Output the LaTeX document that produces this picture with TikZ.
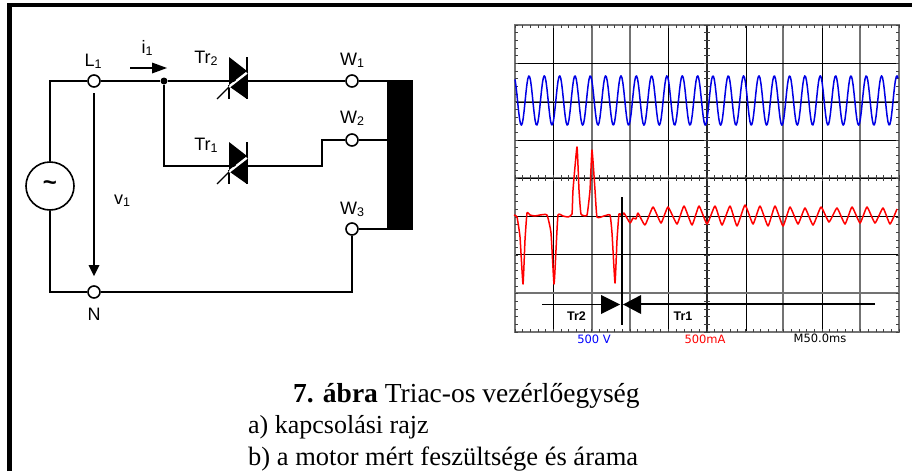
\documentclass[tikz,border=0pt]{standalone}
\usepackage{fontspec}
\setmainfont{Liberation Serif}
\newfontfamily\arialf{Liberation Sans}
\newfontfamily\scopef{DejaVu Sans}
\newcommand\sbs[1]{\raisebox{-0.2ex}{\fontsize{12.5}{12.5}\selectfont #1}}
\definecolor{gridg}{gray}{0.45}
\tikzset{
  wire/.style={line width=1.6pt,black,line join=miter},
  term/.style={circle,draw=black,line width=1.6pt,fill=white,minimum size=12pt,inner sep=0pt},
  lab/.style={font=\arialf\fontsize{18}{18}\selectfont,inner sep=0pt,black},
  captext/.style={font=\fontsize{26.5}{26.5}\selectfont,inner sep=0pt,anchor=base west,black},
  scopelab/.style={font=\scopef\fontsize{11.5}{11.5}\selectfont,inner sep=0pt},
  anno/.style={font=\arialf\bfseries\fontsize{12.5}{12.5}\selectfont,inner sep=0pt,black},
  gk/.style={line width=1pt,black},
  gg/.style={line width=1.4pt,gridg},
  smalltick/.style={line width=.9pt,black!75},
  triac/.pic={
    \fill[black] (-9,-24) -- (9,-10) -- (-9,4) -- cycle;
    \fill[black] (-8,6) -- (9,-7) -- (9,18) -- cycle;
    \draw[line width=1.3pt] (9,-24) -- (9,18);
    \draw[line width=1.3pt] (-21,18) -- (-8,5);
    \draw[line width=1.3pt] (-9,4) -- (-9,18);
    \draw[white,line width=1.8pt] (-9,6) -- (9,-8);
  }
}
\begin{document}
\begin{tikzpicture}[x=1pt,y=-1pt]
\useasboundingbox (0,0) rectangle (912,471);
\fill[white] (0,0) rectangle (912,471);
% frame
\draw[line width=4.5pt,black] (9.5,471) -- (9.5,5) -- (912,5);
% circuit nodes
\node[term] (L) at (94,81) {};
\node[term] (N) at (94,292) {};
\node[term] (W1) at (352,81) {};
\node[term] (W2) at (352,140) {};
\node[term] (W3) at (352,229) {};
\node[circle,draw=black,line width=1.6pt,minimum size=48pt,inner sep=0pt,font=\arialf\bfseries\fontsize{24}{24}\selectfont] (S) at (50,186) {\raisebox{-1pt}{\char"007E}};
\node[circle,fill=black,minimum size=7pt,inner sep=0pt] (J) at (164,81) {};
\node[rectangle,fill=black,minimum width=26pt,minimum height=150pt,inner sep=0pt] (M) at (400,155) {};
\coordinate (T2) at (238,81);
\coordinate (T1) at (238,166);
\coordinate (SL) at (50,81);
\coordinate (SN) at (50,292);
\coordinate (JD) at (164,166);
\coordinate (S1) at (322,166);
\coordinate (S2) at (322,140);
\coordinate (WN) at (352,292);
\coordinate (V1) at (94,93);
\coordinate (V2) at (94,276);
\coordinate (I1) at (130,68);
\coordinate (I2) at (167,68);
% wires
\draw[wire] (S.north) -- (SL) -- (L);
\draw[wire] (S.south) -- (SN) -- (N);
\draw[wire] (L) -- (J);
\draw[wire] (J) -- (T2);
\draw[wire] (T2) -- (W1);
\draw[wire] (W1) -- (W1 -| M.west);
\draw[wire] (J) -- (JD) -- (T1);
\draw[wire] (T1) -- (S1) -- (S2) -- (W2);
\draw[wire] (W2) -- (W2 -| M.west);
\draw[wire] (W3) -- (W3 -| M.west);
\draw[wire] (W3) -- (WN) -- (N);
\pic at (T2) {triac};
\pic at (T1) {triac};
% arrows
\draw[line width=1.2pt] (V1) -- (94,266);
\fill[black] (V2) -- (88.5,265) -- (99.5,265) -- cycle;
\draw[line width=1.2pt] (I1) -- (153,68);
\fill[black] (I2) -- (152,62.5) -- (152,73.5) -- cycle;
% labels
\node[lab] (tL) at (93,61) {L\sbs{1}};
\node[lab] (tI) at (147,48) {i\sbs{1}};
\node[lab] (tT2) at (206,58) {Tr\sbs{2}};
\node[lab] (tT1) at (206,145) {Tr\sbs{1}};
\node[lab] (tW1) at (352,60) {W\sbs{1}};
\node[lab] (tW2) at (352,118) {W\sbs{2}};
\node[lab] (tW3) at (352,209) {W\sbs{3}};
\node[lab] (tV) at (122,201) {v\sbs{1}};
\node[lab] (tN) at (94,314) {N};
% oscilloscope grid
\foreach \xx in {553,668,746,822} \draw[gk] (\xx,25) -- (\xx,332);
\foreach \xx in {592,630,783,860} \draw[gg] (\xx,25) -- (\xx,332);
\foreach \yy in {63,140,216,254} \draw[gk] (515,\yy) -- (899,\yy);
\foreach \yy in {102,178,293} \draw[gg] (515,\yy) -- (899,\yy);
\draw[gk] (515,178) -- (899,178);
\draw[gk] (515,102) -- (899,102);
\draw[gg] (515,25) rectangle (899,332);
\draw[line width=1.6pt,black!85] (707,25) -- (707,332);
% ticks
\foreach \i in {0,...,50} {
  \pgfmathsetmacro\tx{515+\i*7.68}
  \draw[smalltick] (\tx,25) -- (\tx,28);
  \draw[smalltick] (\tx,329) -- (\tx,332);
  \draw[smalltick] (\tx,175) -- (\tx,181);
}
\foreach \i in {0,...,40} {
  \pgfmathsetmacro\ty{25+\i*7.68}
  \draw[smalltick] (515,\ty) -- (518,\ty);
  \draw[smalltick] (896,\ty) -- (899,\ty);
  \draw[smalltick] (704,\ty) -- (710,\ty);
}
% traces
\draw[blue!90!black,line width=1.5pt,line join=round] plot[domain=515:898,samples=420] (\x,{100.5-24.7*cos((\x-529)/15.33*360)});
\draw[red,line width=1.5pt,line join=round] plot[smooth,tension=.25] coordinates {
(514,215) (517,217) (520,237) (523,284) (525,240) (527,213) (530,215) (535,216) (540,215) (547,215)
(551,233) (554,284) (556,250) (558,215) (563,216) (568,217) (572,214) (573,190) (577,147) (579,190)
(581,214) (587,215) (590,190) (592,150) (595,190) (597,217) (604,216) (610,215) (612,233) (615,283)
(617,240) (619,214) (622,216) (624,213) (630,223) (633,218) (636,219) (638,213) (645,225) (653,207)
(661,223) (668,207) (677,224) (684,206) (692,225) (699,206) (707,224) (715,206) (722,225) (730,206)
(737,226) (745,205) (753,224) (760,206) (768,226) (775,206) (783,226) (790,207) (798,224) (805,208)
(813,225) (821,207) (829,222) (837,208) (845,224) (852,207) (860,223) (867,207) (875,223) (883,208)
(890,224) (897,209)};
% switching annotation
\coordinate (Sw1) at (622,197);
\coordinate (Sw2) at (622,325);
\draw[line width=1.4pt] (Sw1) -- (Sw2);
\coordinate (A1) at (542,304.5);
\coordinate (A2) at (620,304.5);
\coordinate (B1) at (875,304);
\coordinate (B2) at (623,304.5);
\draw[line width=1.4pt] (A1) -- (602,304.5);
\draw[line width=1.4pt] (B1) -- (640,304);
\fill[black] (A2) -- (601,295) -- (601,314) -- cycle;
\fill[black] (B2) -- (641,295) -- (641,314) -- cycle;
\node[anno] (aT2) at (576.5,316) {Tr2};
\node[anno] (aT1) at (683,316) {Tr1};
% scope labels
\node[scopelab,text=blue] (vs) at (594,339) {500 V};
\node[scopelab,text=red] (cs) at (705,339) {500mA};
\node[scopelab,text=black] (ts) at (820,338) {M50.0ms};
% caption
\node[captext,font=\fontsize{27.5}{27.5}\selectfont] (c1) at (293,402) {\textbf{7. ábra} Triac-os vezérlőegység};
\node[captext,font=\fontsize{26}{26}\selectfont] (c2) at (248,433) {a) kapcsolási rajz};
\node[captext] (c3) at (248,465) {b) a motor mért feszültsége és árama};
\end{tikzpicture}
\end{document}
